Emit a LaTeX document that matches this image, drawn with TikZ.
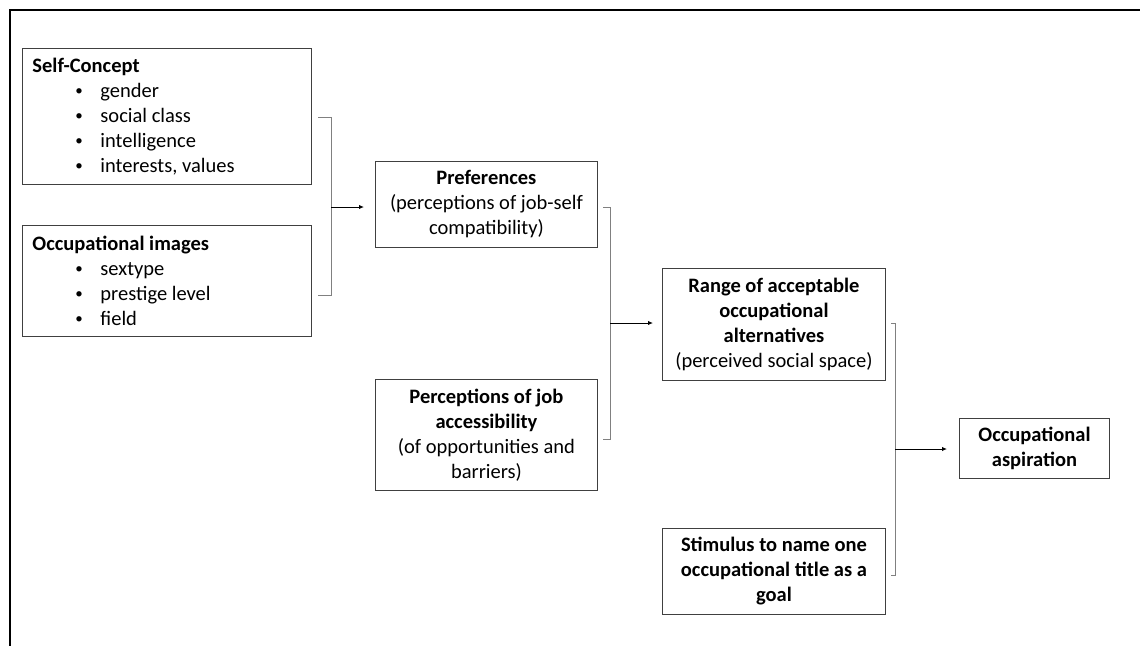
\documentclass[tikz,border=0pt]{standalone}
\usepackage{fontspec}
\setmainfont{Carlito}
\usetikzlibrary{arrows.meta,calc}
\newcommand{\bitem}{\hspace*{43pt}\makebox[25pt][l]{\raisebox{2pt}{\fontsize{15}{15}\selectfont\textbullet}}}
\begin{document}
\begin{tikzpicture}[x=1pt,y=-1pt,
  box/.style={draw=black!75,line width=0.9pt,rectangle,anchor=north west,inner sep=0pt,
    font=\fontsize{20.5}{25}\selectfont},
  cbox/.style={box,align=center},
  lbox/.style={box,align=flush left,text width=269pt,minimum width=289pt},
  brk/.style={draw=black!50,line width=0.8pt},
  arr/.style={draw=black,line width=1pt,-{Latex[length=5pt,width=4.5pt]}},
  frame/.style={draw=black,line width=2pt}]
\useasboundingbox (0,0) rectangle (1140,646);
% outer frame lines
\coordinate (f1) at (1140,10);
\coordinate (f0) at (10,10);
\coordinate (f2) at (10,646);
\draw[frame] (f1) -- (f0) -- (f2);
% left boxes
\node[lbox,minimum height=136pt] (self) at (22,48)
 {\textbf{Self-Concept}\\
  \bitem gender\\
  \bitem social class\\
  \bitem intelligence\\
  \bitem interests, values};
\node[lbox,minimum height=111pt] (occ) at (22,225)
 {\textbf{Occupational images}\\
  \bitem sextype\\
  \bitem prestige level\\
  \bitem field};
% middle boxes
\node[cbox,minimum width=222pt,minimum height=86pt] (pref) at (375,161)
 {\textbf{Preferences}\\(perceptions of job-self\\compatibility)};
\node[cbox,minimum width=222pt,minimum height=111pt] (acc) at (375,379)
 {\textbf{Perceptions of job}\\\textbf{accessibility}\\(of opportunities and\\barriers)};
% right boxes
\node[cbox,minimum width=223pt,minimum height=112pt] (range) at (662,268)
 {\textbf{Range of acceptable}\\\textbf{occupational}\\\textbf{alternatives}\\(perceived social space)};
\node[cbox,minimum width=223pt,minimum height=86pt] (stim) at (662,528)
 {\textbf{Stimulus to name one}\\\textbf{occupational title as a}\\\textbf{goal}};
\node[cbox,minimum width=150pt,minimum height=60pt] (asp) at (959,418)
 {\textbf{Occupational}\\\textbf{aspiration}};
% bracket 1
\coordinate (b1a) at (318,117);
\coordinate (b1b) at (331,117);
\coordinate (b1c) at (331,295);
\coordinate (b1d) at (318,295);
\coordinate (b1m) at (331,207);
\draw[brk] (b1a) -- (b1b) -- (b1c) -- (b1d);
\draw[arr,shorten >=11pt] (b1m) -- (b1m -| pref.west);
% bracket 2
\coordinate (b2a) at (603,207);
\coordinate (b2b) at (610,207);
\coordinate (b2c) at (610,439);
\coordinate (b2d) at (603,439);
\coordinate (b2m) at (610,323);
\draw[brk] (b2a) -- (b2b) -- (b2c) -- (b2d);
\draw[arr,shorten >=9pt] (b2m) -- (b2m -| range.west);
% bracket 3
\coordinate (b3a) at (891,323);
\coordinate (b3b) at (895,323);
\coordinate (b3c) at (895,575);
\coordinate (b3d) at (891,575);
\coordinate (b3m) at (895,449);
\draw[brk] (b3a) -- (b3b) -- (b3c) -- (b3d);
\draw[arr,shorten >=12pt] (b3m) -- (b3m -| asp.west);
\end{tikzpicture}
\end{document}
